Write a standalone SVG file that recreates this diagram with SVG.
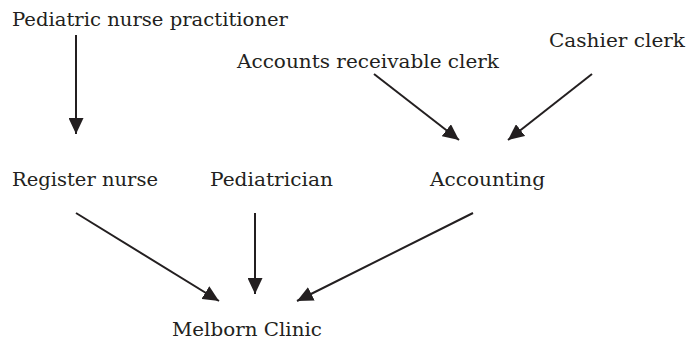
<svg xmlns="http://www.w3.org/2000/svg" width="688" height="347" viewBox="0 0 688 347">
  <style>
    .lbl { font-family: "DejaVu Serif", "Liberation Serif", serif; font-size: 19px; fill: #231f20; }
    .edge { stroke: #231f20; stroke-width: 2; fill: none; marker-end: url(#head); }
  </style>
  <defs>
    <marker id="head" markerUnits="userSpaceOnUse" markerWidth="17" markerHeight="15" refX="16" refY="7.5" orient="auto">
      <path d="M0,0 L16,7.5 L0,15 z" fill="#231f20"/>
    </marker>
  </defs>
  <rect width="688" height="347" fill="#ffffff"/>

  <g id="n-pnp"><text class="lbl" x="12" y="26" textLength="276" lengthAdjust="spacingAndGlyphs">Pediatric nurse practitioner</text></g>
  <g id="n-arc"><text class="lbl" x="237" y="68" textLength="262" lengthAdjust="spacingAndGlyphs">Accounts receivable clerk</text></g>
  <g id="n-cashier"><text class="lbl" x="549" y="47" textLength="136" lengthAdjust="spacingAndGlyphs">Cashier clerk</text></g>
  <g id="n-rn"><text class="lbl" x="12" y="186" textLength="146" lengthAdjust="spacingAndGlyphs">Register nurse</text></g>
  <g id="n-ped"><text class="lbl" x="210" y="186" textLength="123" lengthAdjust="spacingAndGlyphs">Pediatrician</text></g>
  <g id="n-acct"><text class="lbl" x="430" y="186" textLength="115" lengthAdjust="spacingAndGlyphs">Accounting</text></g>
  <g id="n-clinic"><text class="lbl" x="172" y="336" textLength="150" lengthAdjust="spacingAndGlyphs">Melborn Clinic</text></g>

  <g id="connectors">
    <line class="edge" x1="76" y1="35" x2="76" y2="134"/>
    <line class="edge" x1="374" y1="74" x2="459" y2="140"/>
    <line class="edge" x1="592" y1="74" x2="508" y2="140"/>
    <line class="edge" x1="76" y1="213" x2="219" y2="301"/>
    <line class="edge" x1="255" y1="213" x2="255" y2="294"/>
    <line class="edge" x1="473" y1="213" x2="297" y2="301"/>
  </g>
</svg>
